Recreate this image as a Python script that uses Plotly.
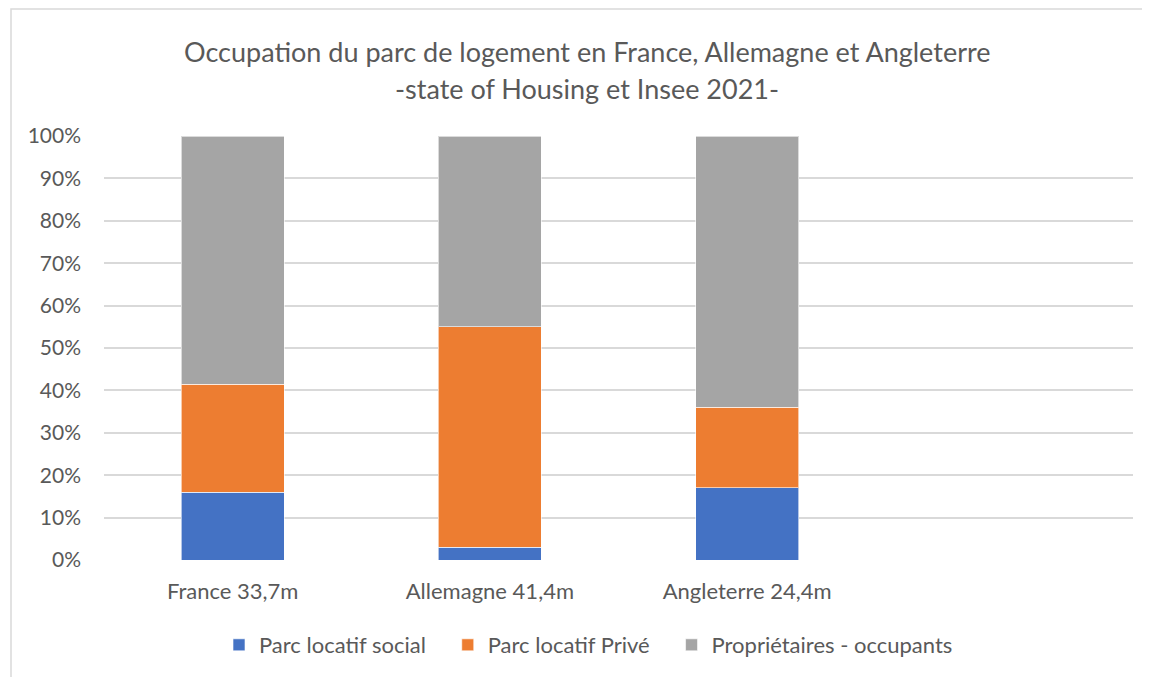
import plotly.graph_objects as go

categories = ["France 33,7m", "Allemagne 41,4m", "Angleterre 24,4m"]
series_names = ["Parc locatif social", "Parc locatif Privé", "Propriétaires - occupants"]
social = [16, 3, 17]
prive = [25.5, 52, 19]
proprietaires = [58.5, 45, 64]
colors = ["#4472C4", "#ED7D31", "#A5A5A5"]
tick_vals = [0, 10, 20, 30, 40, 50, 60, 70, 80, 90, 100]
tick_text = [f"{v}%" for v in tick_vals]
title_line1 = "Occupation du parc de logement en France, Allemagne et Angleterre"
title_line2 = "-state of Housing et Insee 2021-"

FONT = "Lato"
TXT = "#595959"
PAD = "\u00a0" * 3  # visual spacing between legend entries

fig = go.Figure()
for i, (name, vals, col) in enumerate(zip(series_names, [social, prive, proprietaires], colors)):
    label = name + (PAD if i < len(series_names) - 1 else "")
    fig.add_trace(go.Bar(
        x=categories, y=vals, name=label,
        marker=dict(color=col, line=dict(color="rgba(255,255,255,0.6)", width=1)),
        hovertemplate=name + ": %{y}%<extra></extra>",
    ))

# plot area in screen px: x 104..1133, y 136..560 (page has 8px body offset)
def px(X):
    return (X - 104) / 1029

def py(Y):
    return (560 - Y) / 424

fig.update_layout(
    barmode="stack",
    bargap=0.6,
    width=1150, height=677,
    margin=dict(l=96, r=25, t=128, b=125),
    paper_bgcolor="white", plot_bgcolor="white",
    font=dict(family=FONT, color=TXT, size=20),
    showlegend=True,
    legend=dict(orientation="h", x=px(219), xanchor="left", y=py(645), yanchor="middle",
                font=dict(family=FONT, size=22, color=TXT), traceorder="normal",
                itemwidth=30),
    xaxis=dict(range=[-0.5, 3.5], showgrid=False, showline=False, ticks="",
               ticklabelstandoff=16,
               tickfont=dict(family=FONT, size=22, color=TXT), zeroline=False),
    yaxis=dict(range=[0, 100], tickvals=tick_vals, ticktext=tick_text,
               showgrid=True, gridcolor="#D9D9D9", gridwidth=1.5, zeroline=False,
               showline=False, ticks="", ticklabelstandoff=22,
               tickfont=dict(family=FONT, size=21, color=TXT)),
    annotations=[
        dict(text=title_line1, x=px(587), y=py(52), xref="paper", yref="paper",
             showarrow=False, xanchor="center", yanchor="middle",
             font=dict(family=FONT, size=27, color=TXT)),
        dict(text=title_line2, x=px(587), y=py(88), xref="paper", yref="paper",
             showarrow=False, xanchor="center", yanchor="middle",
             font=dict(family=FONT, size=27, color=TXT)),
    ],
    shapes=[dict(type="rect", xref="paper", yref="paper",
                 x0=px(11), x1=px(1170), y0=py(700), y1=py(9),
                 line=dict(color="#D9D9D9", width=1.5), layer="below")],
)

fig.write_html("out.html")
